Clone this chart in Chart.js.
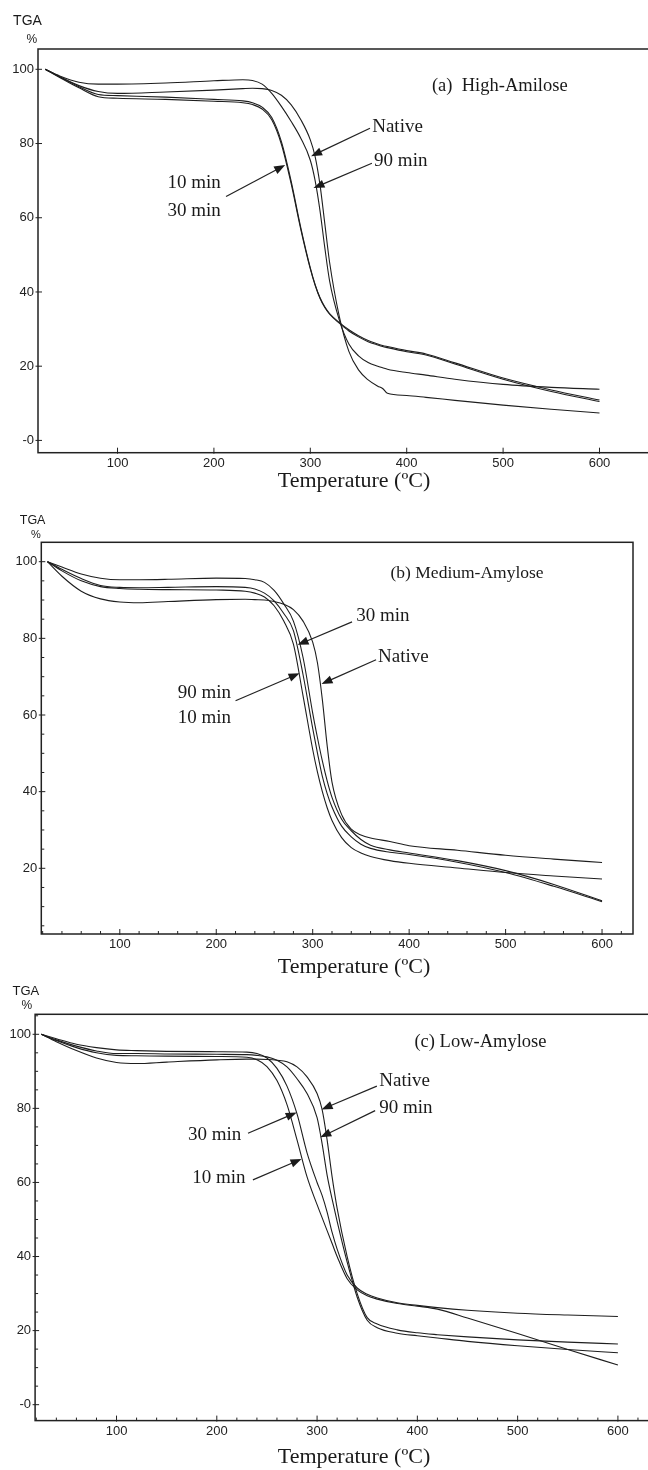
<!DOCTYPE html>
<html>
<head>
<meta charset="utf-8">
<script src="https://cdn.jsdelivr.net/npm/chart.js@4.4.1/dist/chart.umd.min.js"></script>
<style>
  html, body { margin: 0; padding: 0; background: #fff; overflow: hidden; }
  body { width: 648px; height: 1470px; position: relative; }
  canvas { position: absolute; left: 0; }
</style>
</head>
<body>
<canvas id="chartA" width="660" height="500" style="top:0px"></canvas>
<canvas id="chartB" width="660" height="490" style="top:490px"></canvas>
<canvas id="chartC" width="660" height="490" style="top:980px"></canvas>
<script>
// tick labels
const xTicks = [100, 200, 300, 400, 500, 600];
const yTicksA = [0, 20, 40, 60, 80, 100];
const yTicksB = [20, 40, 60, 80, 100];
const yTicksC = [0, 20, 40, 60, 80, 100];

// (a) High-Amilose, weight % vs temperature
const tempsA = [25, 40, 60, 80, 100, 150, 200, 230, 240, 250, 260, 270, 280, 290, 300, 305, 310, 315, 320, 330, 340, 350, 360, 370, 375, 380, 400, 420, 450, 500, 550, 600];
const nativeA = [100, 98.2, 96.5, 96.0, 96.0, 96.3, 96.9, 97.2, 97.0, 96.0, 93.5, 90.0, 86.0, 81.5, 75.5, 70.0, 62.0, 52.0, 43.0, 32.5, 26.0, 22.8, 21.0, 20.0, 19.6, 19.2, 18.3, 17.6, 16.5, 15.1, 14.3, 13.8];
const min90A = [100, 98.0, 95.6, 94.0, 93.5, 93.9, 94.4, 94.8, 94.9, 94.8, 94.3, 93.0, 90.5, 86.5, 81.0, 76.5, 69.0, 58.5, 48.0, 33.5, 24.0, 19.0, 16.3, 14.6, 14.0, 12.7, 12.1, 11.6, 10.8, 9.5, 8.4, 7.4];
const min10A = [100, 98.0, 95.3, 93.2, 92.9, 92.5, 91.9, 91.5, 91.0, 89.8, 87.0, 80.5, 70.0, 57.5, 46.5, 42.0, 38.5, 36.0, 34.2, 31.8, 29.8, 28.2, 26.9, 26.0, 25.6, 25.3, 24.2, 23.3, 20.9, 16.8, 13.6, 10.9];
const min30A = [100, 97.8, 95.0, 92.6, 92.2, 91.9, 91.4, 91.0, 90.5, 89.3, 86.4, 79.8, 69.3, 57.0, 46.2, 41.8, 38.3, 35.8, 34.0, 31.6, 29.5, 27.9, 26.6, 25.7, 25.3, 25.0, 23.9, 23.0, 20.6, 16.5, 13.2, 10.5];

// (b) Medium-Amylose
const tempsB = [25, 40, 60, 80, 100, 120, 150, 200, 230, 240, 250, 260, 270, 280, 290, 300, 305, 310, 315, 320, 330, 340, 350, 360, 380, 400, 450, 500, 550, 600];
const nativeB = [100, 96.2, 92.3, 90.3, 89.5, 89.3, 89.6, 90.1, 90.2, 90.1, 90.0, 89.6, 88.9, 87.5, 84.5, 79.0, 73.5, 64.0, 52.0, 42.5, 34.0, 30.2, 28.7, 27.9, 27.0, 25.9, 24.7, 23.4, 22.4, 21.5];
const min30B = [100, 98.6, 96.8, 95.7, 95.3, 95.3, 95.4, 95.7, 95.6, 95.3, 94.6, 92.5, 89.0, 84.5, 75.0, 60.5, 54.0, 48.0, 42.8, 38.5, 32.8, 29.8, 27.5, 26.0, 24.8, 24.0, 22.0, 19.4, 15.8, 11.5];
const min10B = [100, 98.0, 95.6, 93.8, 93.3, 93.2, 93.3, 93.5, 93.3, 92.9, 91.8, 89.8, 86.5, 82.0, 70.5, 56.5, 50.0, 44.0, 39.5, 36.0, 31.0, 28.2, 26.3, 25.2, 24.2, 23.6, 21.6, 18.9, 15.3, 11.3];
const min90B = [100, 97.6, 95.0, 93.5, 93.0, 92.8, 92.7, 92.6, 92.3, 91.8, 90.8, 88.5, 84.5, 78.5, 65.0, 51.0, 45.0, 40.0, 35.8, 32.5, 28.0, 25.4, 24.0, 23.1, 22.0, 21.3, 20.1, 18.9, 18.0, 17.2];

// (c) Low-Amylose
const tempsC = [25, 40, 60, 80, 100, 120, 150, 200, 230, 240, 250, 260, 270, 280, 290, 300, 305, 310, 315, 320, 330, 340, 350, 360, 380, 400, 420, 450, 500, 550, 600];
const nativeC = [100, 98.0, 95.6, 93.6, 92.4, 92.1, 92.5, 93.1, 93.3, 93.3, 93.2, 93.0, 92.6, 91.2, 88.5, 84.0, 79.7, 71.5, 61.5, 53.0, 40.0, 30.0, 23.5, 21.8, 20.2, 19.4, 18.9, 18.3, 17.5, 16.9, 16.4];
const min90C = [100, 98.5, 96.8, 95.5, 94.8, 94.8, 94.7, 94.6, 94.5, 94.3, 93.9, 93.0, 91.2, 88.0, 84.0, 77.5, 70.5, 62.0, 55.5, 49.5, 38.5, 29.0, 22.8, 20.8, 19.3, 18.6, 18.0, 17.1, 15.9, 14.9, 14.0];
const min30C = [100, 98.8, 97.3, 96.4, 95.8, 95.6, 95.4, 95.3, 95.2, 94.8, 93.6, 90.8, 86.0, 78.5, 68.0, 60.0, 56.5, 52.0, 46.5, 42.0, 35.0, 31.5, 29.8, 28.8, 27.5, 26.8, 26.2, 25.5, 24.7, 24.2, 23.8];
const min10C = [100, 98.3, 96.4, 95.0, 94.3, 94.2, 94.1, 94.0, 93.8, 93.1, 91.3, 87.5, 81.0, 71.5, 61.5, 54.0, 50.5, 47.0, 43.5, 40.0, 34.0, 31.0, 29.4, 28.5, 27.3, 26.6, 25.8, 23.4, 19.2, 14.9, 10.7];

function curve(temps, weights) {
    return {
        data: temps.map((t, i) => ({x: t, y: weights[i]})),
        borderColor: `#1e1e1e`,
        borderWidth: 1.1,
        pointRadius: 0,
        fill: false,
        cubicInterpolationMode: `monotone`
    };
}

function drawArrow(ctx, x1, y1, x2, y2) {
    const a = Math.atan2(y2 - y1, x2 - x1);
    const len = 11, half = 4.2;
    ctx.beginPath();
    ctx.moveTo(x1, y1);
    ctx.lineTo(x2 - Math.cos(a) * len * 0.8, y2 - Math.sin(a) * len * 0.8);
    ctx.stroke();
    ctx.beginPath();
    ctx.moveTo(x2, y2);
    ctx.lineTo(x2 - Math.cos(a) * len + Math.sin(a) * half, y2 - Math.sin(a) * len - Math.cos(a) * half);
    ctx.lineTo(x2 - Math.cos(a) * len - Math.sin(a) * half, y2 - Math.sin(a) * len + Math.cos(a) * half);
    ctx.closePath();
    ctx.fill();
}

// frame, tick marks, notes and arrows
const decor = {
    id: `decor`,
    afterDraw(chart, args, o) {
        const {ctx, chartArea: a} = chart;
        const x = chart.scales.x, y = chart.scales.y;
        ctx.save();
        ctx.strokeStyle = `#222`;
        ctx.fillStyle = `#1a1a1a`;
        ctx.lineWidth = 1.5;
        ctx.strokeRect(a.left, a.top, a.right - a.left, a.bottom - a.top);

        ctx.lineWidth = 1;
        ctx.beginPath();
        for (let v = 20; v < x.max; v += 20) {
            const px = x.getPixelForValue(v);
            const major = xTicks.includes(v);
            if (!major && !o.minor) continue;
            ctx.moveTo(px, a.bottom + (major ? 1 : 0));
            ctx.lineTo(px, a.bottom - (major ? 5 : 3));
        }
        for (let v = 0; v < y.max; v += 5) {
            if (v < y.min) continue;
            const py = y.getPixelForValue(v);
            const major = v % 20 === 0;
            if (!major && !o.minor) continue;
            ctx.moveTo(a.left - (major ? 2.5 : 0), py);
            ctx.lineTo(a.left + (major ? 4 : 3), py);
        }
        ctx.stroke();

        ctx.textAlign = `left`;
        ctx.textBaseline = `alphabetic`;
        for (const n of o.notes) {
            ctx.font = `${n.size || 19}px "Liberation Serif"`;
            ctx.fillText(n.text, x.getPixelForValue(n.x), y.getPixelForValue(n.y));
        }
        ctx.lineWidth = 1.2;
        for (const ar of o.arrows) {
            drawArrow(ctx, x.getPixelForValue(ar.from[0]), y.getPixelForValue(ar.from[1]),
                x.getPixelForValue(ar.to[0]), y.getPixelForValue(ar.to[1]));
        }

        ctx.textAlign = `center`;
        for (const t of o.labels) {
            ctx.font = t.font;
            ctx.textBaseline = t.base;
            ctx.fillText(t.text, t.px, t.py);
        }
        ctx.restore();
    }
};

function makeChart(id, temps, series, box, range, yTicks, extra) {
    const cv = document.getElementById(id);
    const xh = 24;
    const tickFont = {family: `Liberation Sans`, size: 13};
    return new Chart(cv, {
        type: `line`,
        data: {datasets: series.map(s => curve(temps, s))},
        options: {
            responsive: false,
            animation: false,
            events: [],
            layout: {
                autoPadding: false,
                padding: {left: 0, top: box.top, right: cv.width - box.right, bottom: cv.height - box.bottom - xh}
            },
            scales: {
                x: {
                    type: `linear`, min: range.x0, max: range.x1,
                    afterBuildTicks: s => { s.ticks = xTicks.map(v => ({value: v})); },
                    afterFit: s => { s.height = xh; },
                    grid: {display: false, drawTicks: false},
                    border: {display: false},
                    ticks: {padding: 3, color: `#222`, font: tickFont, maxRotation: 0, autoSkip: false}
                },
                y: {
                    type: `linear`, min: range.y0, max: range.y1,
                    afterBuildTicks: s => { s.ticks = yTicks.map(v => ({value: v})); },
                    afterFit: s => { s.width = box.left; },
                    grid: {display: false, drawTicks: false},
                    border: {display: false},
                    ticks: {padding: 4, color: `#222`, font: tickFont, callback: v => v === 0 ? `-0` : `${v}`}
                }
            },
            plugins: {legend: {display: false}, tooltip: {enabled: false}, decor: extra}
        },
        plugins: [decor]
    });
}

const axisTitle = `Temperature (ºC)`;
const serifBig = `22px "Liberation Serif"`;

makeChart(`chartA`, tempsA, [nativeA, min90A, min10A, min30A],
    {left: 38, top: 49, right: 650, bottom: 452.7},
    {x0: 17.5, x1: 652.4, y0: -3.31, y1: 105.47}, yTicksA, {
        minor: false,
        notes: [
            {text: `(a)  High-Amilose`, x: 426.2, y: 94.2, size: 18.5},
            {text: `Native`, x: 364.2, y: 83.2},
            {text: `90 min`, x: 366.2, y: 74.0},
            {text: `10 min`, x: 151.8, y: 68.0},
            {text: `30 min`, x: 151.8, y: 60.6}
        ],
        arrows: [
            {from: [361.9, 84.1], to: [300.8, 76.6]},
            {from: [363.9, 74.7], to: [303.3, 68.0]},
            {from: [212.6, 65.7], to: [273.9, 74.2]}
        ],
        labels: [
            {text: `TGA`, px: 27.5, py: 21.3, font: `14px "Liberation Sans"`, base: `middle`},
            {text: `%`, px: 31.8, py: 39.5, font: `12px "Liberation Sans"`, base: `middle`},
            {text: axisTitle, px: 354, py: 487, font: serifBig, base: `alphabetic`}
        ]
    });

makeChart(`chartB`, tempsB, [nativeB, min30B, min10B, min90B],
    {left: 41.3, top: 52.3, right: 633, bottom: 444},
    {x0: 18.6, x1: 632.1, y0: 2.86, y1: 105.06}, yTicksB, {
        minor: true,
        notes: [
            {text: `(b) Medium-Amylose`, x: 380.7, y: 95.7, size: 17.5},
            {text: `30 min`, x: 345.1, y: 84.6},
            {text: `Native`, x: 367.8, y: 73.9},
            {text: `90 min`, x: 160.0, y: 64.4},
            {text: `10 min`, x: 160.0, y: 58.0}
        ],
        arrows: [
            {from: [340.8, 84.3], to: [284.3, 78.3]},
            {from: [365.7, 74.4], to: [309.1, 68.1]},
            {from: [220.0, 63.7], to: [286.4, 70.9]}
        ],
        labels: [
            {text: `TGA`, px: 32.6, py: 30.7, font: `12.5px "Liberation Sans"`, base: `middle`},
            {text: `%`, px: 36, py: 45, font: `11px "Liberation Sans"`, base: `middle`},
            {text: axisTitle, px: 354, py: 483, font: serifBig, base: `alphabetic`}
        ]
    });

makeChart(`chartC`, tempsC, [nativeC, min90C, min30C, min10C],
    {left: 35.1, top: 34.3, right: 650, bottom: 440.6},
    {x0: 18.8, x1: 632.0, y0: -4.3, y1: 105.4}, yTicksC, {
        minor: true,
        notes: [
            {text: `(c) Low-Amylose`, x: 397.1, y: 96.65, size: 18.5},
            {text: `Native`, x: 362, y: 86.0},
            {text: `90 min`, x: 362, y: 78.8},
            {text: `30 min`, x: 171.3, y: 71.5},
            {text: `10 min`, x: 175.4, y: 59.9}
        ],
        arrows: [
            {from: [359.6, 86.0], to: [304.5, 79.7]},
            {from: [357.9, 79.4], to: [303.2, 72.2]},
            {from: [231.1, 73.3], to: [279.7, 78.9]},
            {from: [236.0, 60.7], to: [284.5, 66.3]}
        ],
        labels: [
            {text: `TGA`, px: 25.8, py: 11.7, font: `13px "Liberation Sans"`, base: `middle`},
            {text: `%`, px: 26.9, py: 25.8, font: `12px "Liberation Sans"`, base: `middle`},
            {text: axisTitle, px: 354, py: 483, font: serifBig, base: `alphabetic`}
        ]
    });
</script>
</body>
</html>
